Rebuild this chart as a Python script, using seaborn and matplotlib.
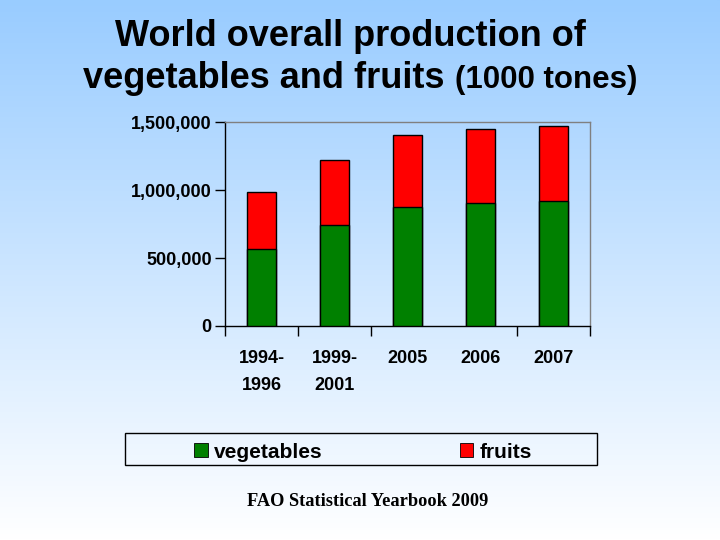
import numpy as np
import pandas as pd
import matplotlib
matplotlib.use("Agg")
import matplotlib.pyplot as plt
from matplotlib.patches import Patch, Rectangle
from matplotlib.colors import LinearSegmentedColormap
from matplotlib.ticker import FuncFormatter
import seaborn as sns

# ---- data (1000 tonnes) ----
periods = ["1994-\n1996", "1999-\n2001", "2005", "2006", "2007"]
vegetables = [564000, 740000, 873000, 902000, 919000]
fruits = [419000, 478000, 531000, 544000, 552000]
y_ticks = [0, 500000, 1000000, 1500000]

plt.rcParams['font.family'] = ['Liberation Sans', 'DejaVu Sans']

df = pd.DataFrame({"period": periods, "vegetables": vegetables, "fruits": fruits})
df["total"] = df["vegetables"] + df["fruits"]

W, H = 720, 540
fig = plt.figure(figsize=(7.2, 5.4), dpi=100)

# background gradient
bg = fig.add_axes([0, 0, 1, 1], zorder=-10)
cmap = LinearSegmentedColormap.from_list("bg", ["#99CCFF", "#FFFFFF"])
grad = np.linspace(0, 1, 256).reshape(-1, 1)
bg.imshow(grad, aspect="auto", cmap=cmap, extent=[0, 1, 0, 1], origin="upper")
bg.set_axis_off()

ax = fig.add_axes([225 / W, 1 - 326 / H, 365 / W, 204 / H])
ax.set_facecolor("none")

sns.barplot(data=df, x="period", y="total", color="#FF0000", saturation=1,
            width=0.4, edgecolor="black", linewidth=1, ax=ax, zorder=2)
sns.barplot(data=df, x="period", y="vegetables", color="#008000", saturation=1,
            width=0.4, edgecolor="black", linewidth=1, ax=ax, zorder=3)

ax.set_xlim(-0.5, len(periods) - 0.5)
ax.set_ylim(0, 1500000)
ax.set_yticks(y_ticks)
ax.yaxis.set_major_formatter(FuncFormatter(lambda v, p: f"{int(v):,}"))
ax.set_xlabel("")
ax.set_ylabel("")

ax.tick_params(axis="x", which="major", length=0, pad=17.5, labelsize=13)
ax.set_xticks([-0.5, 0.5, 1.5, 3.5, 4.5], minor=True)
ax.tick_params(axis="x", which="minor", length=7, width=1, direction="out", color="black")
ax.tick_params(axis="y", length=7, width=1, direction="out", pad=2.5, labelsize=13, color="black")
for lab in ax.get_xticklabels() + ax.get_yticklabels():
    lab.set_fontweight("bold")
for lab in ax.get_xticklabels():
    lab.set_linespacing(1.75)

for s in ["top", "right"]:
    ax.spines[s].set_color("#808080")
    ax.spines[s].set_linewidth(1)
for s in ["left", "bottom"]:
    ax.spines[s].set_color("black")
    ax.spines[s].set_linewidth(1)

# title
fig.text(350 / W, 1 - 46 / H, "World overall production of", ha="center", va="baseline",
         fontsize=26, fontweight="bold")
fig.text(83 / W, 1 - 88 / H, "vegetables and fruits", ha="left", va="baseline",
         fontsize=26, fontweight="bold")
fig.text(637 / W, 1 - 88 / H, "(1000 tones)", ha="right", va="baseline",
         fontsize=22.5, fontweight="bold")

# legend
fig.patches.append(Rectangle((125 / W, 1 - 465 / H), 472 / W, 32 / H,
                             transform=fig.transFigure, fill=False,
                             edgecolor="black", linewidth=1))
handles = [Patch(facecolor="#008000", edgecolor="black", linewidth=0.6, label="vegetables"),
           Patch(facecolor="#FF0000", edgecolor="black", linewidth=0.6, label="fruits")]
leg = fig.legend(handles=handles, loc="center", bbox_to_anchor=(363 / W, 1 - 452 / H),
                 ncol=2, frameon=False, prop={"weight": "bold", "size": 15},
                 handlelength=0.65, handleheight=0.65, handletextpad=0.3,
                 columnspacing=6.6, borderpad=0)

# footer
fig.text(368 / W, 1 - 506 / H, "FAO Statistical Yearbook 2009", ha="center", va="baseline",
         fontsize=13.2, fontweight="bold", family=["Liberation Serif", "DejaVu Serif"])

fig.savefig("out.png", dpi=100)
